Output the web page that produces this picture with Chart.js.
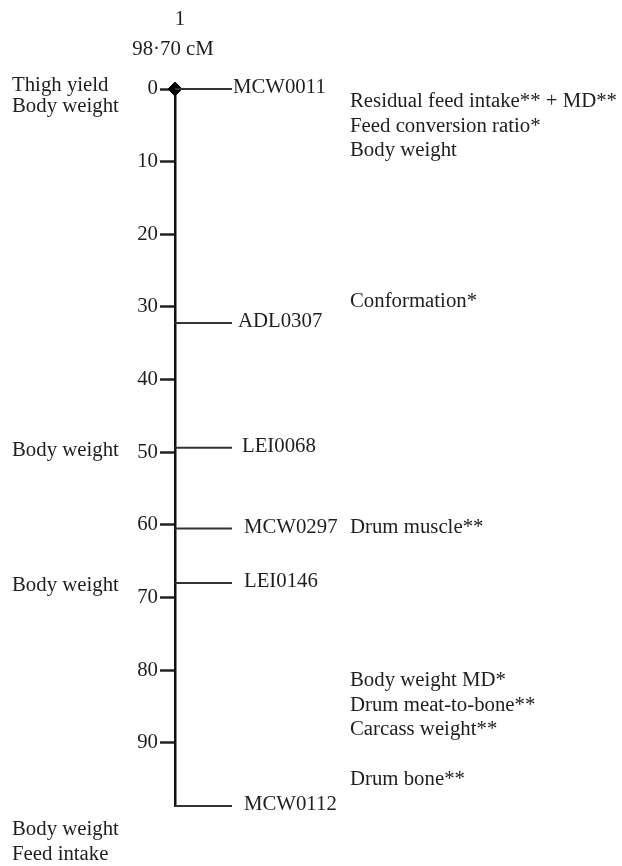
<!DOCTYPE html>
<html>
<head>
<meta charset="utf-8">
<script src="https://cdn.jsdelivr.net/npm/chart.js@4/dist/chart.umd.min.js"></script>
<style>
  html, body { margin: 0; padding: 0; background: #fff; }
  #wrap { width: 622px; height: 866px; }
</style>
</head>
<body>
<div id="wrap"><canvas id="c" width="622" height="866"></canvas></div>
<script>
// ---- data ----
const chromosomeName = '1';
const mapLengthLabel = '98·70 cM';
const mapLength = 98.7;
const tickValues = [0, 10, 20, 30, 40, 50, 60, 70, 80, 90];
const markerNames = ['MCW0011', 'ADL0307', 'LEI0068', 'MCW0297', 'LEI0146', 'MCW0112'];
const markerPositions = [0, 32.2, 49.4, 60.5, 68.0, 98.7];
const leftQTLText = [['Thigh yield', 'Body weight'], ['Body weight'], ['Body weight'], ['Body weight', 'Feed intake']];
const leftQTLPositions = [-0.5, 49.8, 68.3, 101.9];
const rightQTLText = [
  ['Residual feed intake** + MD**', 'Feed conversion ratio*', 'Body weight'],
  ['Conformation*'],
  ['Drum muscle**'],
  ['Body weight MD*', 'Drum meat-to-bone**', 'Carcass weight**'],
  ['Drum bone**']
];
const rightQTLPositions = [1.7, 29.2, 60.4, 81.4, 95.1];

// ---- styles ----
const FONT = '"Liberation Serif", "Times New Roman", serif';
const FS = 20.8;
const INK = '#1e1e1e';
const AXIS_X = 175;
const MARKER_LINE_LEN = 58;
const labelNudge = [1, 6, 10, 12, 12, 12];
const rightX = 350;
const leftX = 12;
const leftLineGap = [21.5, 25, 25, 25];
const rightLineGap = 24.8;

const markerDatasets = markerNames.map((name, i) => ({
  label: name,
  type: 'line',
  data: [{ x: 0, y: markerPositions[i] }, { x: MARKER_LINE_LEN, y: markerPositions[i] }],
  borderColor: '#333',
  borderWidth: 2,
  pointRadius: 0,
  clip: false
}));

const diamondDataset = {
  label: 'top',
  type: 'scatter',
  data: [{ x: 0, y: markerPositions[0] }],
  pointStyle: 'rectRot',
  pointRadius: 7,
  backgroundColor: '#000',
  borderColor: '#000',
  clip: false
};

const textPlugin = {
  id: 'mapText',
  afterDraw(chart) {
    const ctx = chart.ctx;
    const y = chart.scales.y;
    const x = chart.scales.x;
    ctx.save();
    ctx.fillStyle = INK;
    ctx.font = FS + 'px ' + FONT;
    ctx.textBaseline = 'middle';
    // header
    ctx.textAlign = 'center';
    ctx.fillText(chromosomeName, 180, 20);
    ctx.fillText(mapLengthLabel, 173, 50);
    // marker names
    ctx.textAlign = 'left';
    markerNames.forEach((n, i) => {
      const px = x.getPixelForValue(MARKER_LINE_LEN) + labelNudge[i];
      ctx.fillText(n, px, y.getPixelForValue(markerPositions[i]) - 1);
    });
    // left QTLs
    leftQTLText.forEach((lines, i) => {
      const py = y.getPixelForValue(leftQTLPositions[i]);
      lines.forEach((t, j) => ctx.fillText(t, leftX, py + j * leftLineGap[i]));
    });
    // right QTLs
    rightQTLText.forEach((lines, i) => {
      const py = y.getPixelForValue(rightQTLPositions[i]);
      lines.forEach((t, j) => ctx.fillText(t, rightX, py + j * rightLineGap));
    });
    ctx.restore();
  }
};

new Chart(document.getElementById('c'), {
  type: 'scatter',
  data: { datasets: [...markerDatasets, diamondDataset] },
  options: {
    responsive: false,
    devicePixelRatio: 1,
    animation: false,
    layout: { padding: { top: 89, bottom: 60, left: 0, right: 0 } },
    plugins: { legend: { display: false }, tooltip: { enabled: false }, title: { display: false } },
    scales: {
      x: { type: 'linear', display: false, min: 0, max: 622 - AXIS_X },
      y: {
        type: 'linear',
        reverse: true,
        min: 0,
        max: mapLength,
        afterFit(scale) { scale.width = AXIS_X; },
        afterBuildTicks(scale) { scale.ticks = tickValues.map(v => ({ value: v })); },
        ticks: { includeBounds: false, stepSize: 10, padding: 2, color: INK, font: { family: FONT, size: FS } },
        grid: { drawOnChartArea: false, drawTicks: true, tickLength: 15, tickWidth: 2.5, tickColor: '#222' },
        border: { display: true, color: '#111', width: 2.5 }
      }
    }
  },
  plugins: [textPlugin]
});
</script>
</body>
</html>
